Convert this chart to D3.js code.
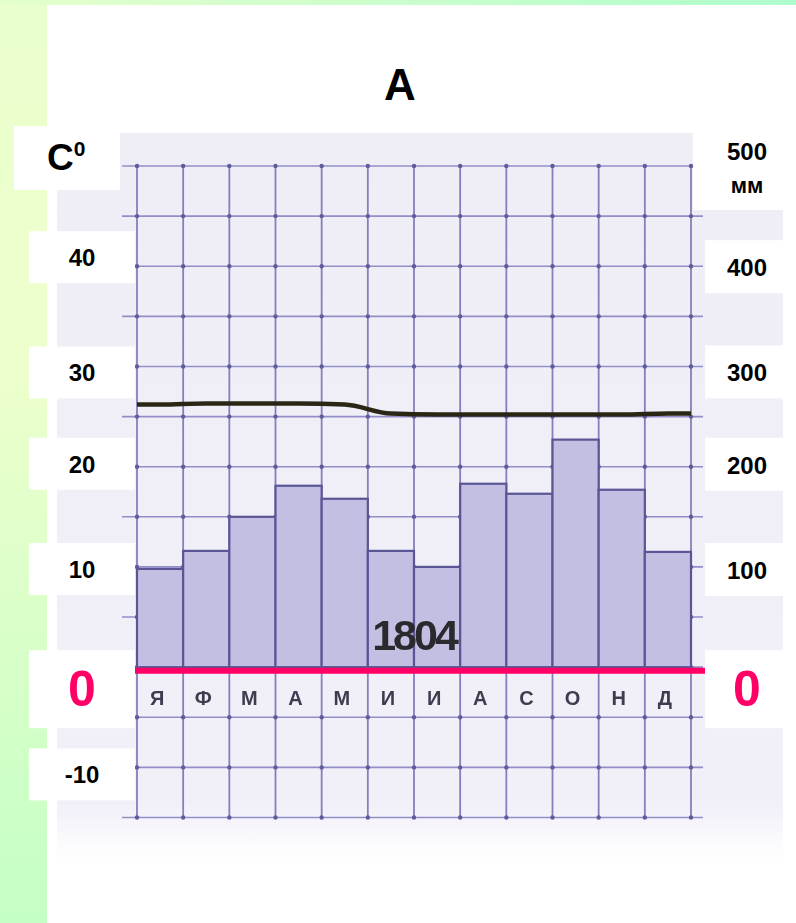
<!DOCTYPE html>
<html>
<head>
<meta charset="utf-8">
<script src="https://cdn.jsdelivr.net/npm/d3@7/dist/d3.min.js"></script>
<style>
  html, body { margin: 0; padding: 0; background: #fff; }
  svg { display: block; font-family: "Liberation Sans", Arial, sans-serif; font-weight: bold; }
</style>
</head>
<body>
<script>
// data
const months = ["Я", "Ф", "М", "А", "М", "И", "И", "А", "С", "О", "Н", "Д"];
const precip = [98, 116, 150, 181, 168, 116, 100, 183, 173, 227, 177, 115];   // мм
const temps = [26.2, 26.3, 26.3, 26.3, 26.2, 25.3, 25.2, 25.2, 25.2, 25.2, 25.2, 25.3]; // C
const tempTicks = [40, 30, 20, 10, 0, -10];
const precipTicks = [400, 300, 200, 100, 0];
const title = "А";
const totalLabel = "1804";

// layout nudges for the hand-placed label boxes of the slide
const leftNudge = {40: -9, 30: 6, 20: -3, 10: 2, 0: 21, "-10": 7};
const rightNudge = {400: 1, 300: 6, 200: -2, 100: 3, 0: 22};

var W = 796, H = 923;
var svg = d3.select("body").append("svg").attr("width", W).attr("height", H);
var defs = svg.append("defs");

// slide background
var gL = defs.append("linearGradient").attr("id", "gLeft").attr("x1", 0).attr("y1", 0).attr("x2", 0).attr("y2", 1);
gL.append("stop").attr("offset", 0).attr("stop-color", "#eaffce");
gL.append("stop").attr("offset", 0.4).attr("stop-color", "#edffcc");
gL.append("stop").attr("offset", 1).attr("stop-color", "#c4ffc6");
var gT = defs.append("linearGradient").attr("id", "gTop").attr("x1", 0).attr("y1", 0).attr("x2", 1).attr("y2", 0);
gT.append("stop").attr("offset", 0).attr("stop-color", "#e4ffcc");
gT.append("stop").attr("offset", 1).attr("stop-color", "#b0fdcc");
var gScan = defs.append("linearGradient").attr("id", "gScan").attr("x1", 0).attr("y1", 0).attr("x2", 0).attr("y2", 1);
gScan.append("stop").attr("offset", 0).attr("stop-color", "#efedf6");
gScan.append("stop").attr("offset", 0.92).attr("stop-color", "#f1eff8");
gScan.append("stop").attr("offset", 1).attr("stop-color", "#ffffff");
defs.append("filter").attr("id", "soft").append("feGaussianBlur").attr("stdDeviation", 0.6);

svg.append("rect").attr("width", W).attr("height", H).attr("fill", "url(#gLeft)");
svg.append("rect").attr("width", W).attr("height", 6).attr("fill", "url(#gTop)");
svg.append("rect").attr("x", 47).attr("y", 5).attr("width", W - 47).attr("height", H - 5).attr("fill", "#fff");

// scales
const x = d3.scaleBand().domain(d3.range(months.length)).range([137, 691]).padding(0);
const yT = d3.scaleLinear().domain([-15, 50]).range([817.5, 166]);
const yP = d3.scaleLinear().domain([0, 500]).range([yT(0), yT(50)]);
const bw = x.bandwidth();

// scanned paper
svg.append("rect").attr("x", 57).attr("y", 133).attr("width", 726).attr("height", 727).attr("fill", "url(#gScan)");

var chart = svg.append("g").attr("filter", "url(#soft)");

// grid
var hVals = d3.range(-15, 51, 5);
var vPos = x.domain().map(i => x(i)).concat([x.range()[1]]);
chart.append("g").selectAll("line").data(hVals).enter().append("line")
  .attr("x1", 122).attr("x2", 703)
  .attr("y1", d => yT(d)).attr("y2", d => yT(d))
  .attr("stroke", "#928ec8").attr("stroke-width", 1.6);
chart.append("g").selectAll("line").data(vPos).enter().append("line")
  .attr("x1", d => d).attr("x2", d => d)
  .attr("y1", yT(50)).attr("y2", yT(-15))
  .attr("stroke", "#8480bd").attr("stroke-width", 1.8);
// dots on the crossings
var cross = [];
hVals.forEach(h => vPos.forEach(v => cross.push({x: v, y: yT(h)})));
chart.append("g").selectAll("circle").data(cross).enter().append("circle")
  .attr("cx", d => d.x).attr("cy", d => d.y).attr("r", 2.2).attr("fill", "#5f5b9c");

// precipitation bars
chart.append("g").selectAll("rect").data(precip).enter().append("rect")
  .attr("x", (d, i) => x(i))
  .attr("y", d => yP(d))
  .attr("width", bw)
  .attr("height", d => yP(0) - yP(d))
  .attr("fill", "#c2bfe2")
  .attr("stroke", "#5a5696")
  .attr("stroke-width", 2.2);

// temperature curve, carried to both edges of the grid
var pts = [[x.range()[0], temps[0]]]
  .concat(temps.map((t, i) => [x(i) + bw / 2, t]))
  .concat([[x.range()[1], temps[temps.length - 1]]]);
var line = d3.line().x(d => d[0]).y(d => yT(d[1])).curve(d3.curveMonotoneX);
chart.append("path").datum(pts).attr("d", line)
  .attr("fill", "none").attr("stroke", "#2c2716").attr("stroke-width", 4.5);

// month letters
chart.append("g").selectAll("text").data(months).enter().append("text")
  .attr("x", (d, i) => x(i) + bw / 2 - 3)
  .attr("y", yT(0) + 38)
  .attr("text-anchor", "middle")
  .attr("font-size", 20)
  .attr("fill", "#3e3d50")
  .text(d => d);

// annual total
chart.append("text")
  .attr("x", x(5) + bw).attr("y", yT(0) - 17)
  .attr("text-anchor", "middle")
  .attr("font-size", 43).attr("letter-spacing", -3)
  .attr("fill", "#2b2b2e")
  .text(totalLabel);

// zero line
svg.append("line")
  .attr("x1", 120).attr("x2", 710)
  .attr("y1", yT(0) + 3.5).attr("y2", yT(0) + 3.5)
  .attr("stroke", "#ff0066").attr("stroke-width", 6);

// title
svg.append("text").attr("x", 400).attr("y", 100).attr("text-anchor", "middle")
  .attr("font-size", 44).attr("fill", "#000").text(title);

// left label boxes
svg.append("rect").attr("x", 14).attr("y", 126).attr("width", 106).attr("height", 64).attr("fill", "#fff");
var cu = svg.append("text").attr("x", 47).attr("y", 170).attr("font-size", 37).attr("fill", "#000");
cu.append("tspan").text("C");
cu.append("tspan").attr("font-size", 21).attr("dy", -14).text("0");

var left = svg.append("g").selectAll("g").data(tempTicks).enter().append("g")
  .attr("transform", d => "translate(0," + (yT(d) + leftNudge[d]) + ")");
left.append("rect").attr("x", 29).attr("width", 106)
  .attr("y", d => d === 0 ? -38 : -26).attr("height", d => d === 0 ? 78 : 52)
  .attr("fill", "#fff");
left.append("text").attr("x", 82).attr("text-anchor", "middle")
  .attr("y", d => d === 0 ? 18 : 9)
  .attr("font-size", d => d === 0 ? 50 : 24)
  .attr("fill", d => d === 0 ? "#ff0066" : "#000")
  .text(d => d);

// right label boxes
svg.append("rect").attr("x", 693).attr("y", 126).attr("width", 103).attr("height", 84).attr("fill", "#fff");
svg.append("text").attr("x", 747).attr("y", 160).attr("text-anchor", "middle")
  .attr("font-size", 24).attr("fill", "#000").text(yP.domain()[1]);
svg.append("text").attr("x", 747).attr("y", 193).attr("text-anchor", "middle")
  .attr("font-size", 22).attr("fill", "#000").text("мм");

var right = svg.append("g").selectAll("g").data(precipTicks).enter().append("g")
  .attr("transform", d => "translate(0," + (yP(d) + rightNudge[d]) + ")");
right.append("rect").attr("x", 705).attr("width", 91)
  .attr("y", d => d === 0 ? -39 : -27).attr("height", d => d === 0 ? 78 : 53)
  .attr("fill", "#fff");
right.append("text").attr("x", 747).attr("text-anchor", "middle")
  .attr("y", d => d === 0 ? 17 : 9)
  .attr("font-size", d => d === 0 ? 50 : 24)
  .attr("fill", d => d === 0 ? "#ff0066" : "#000")
  .text(d => d);
</script>
</body>
</html>
